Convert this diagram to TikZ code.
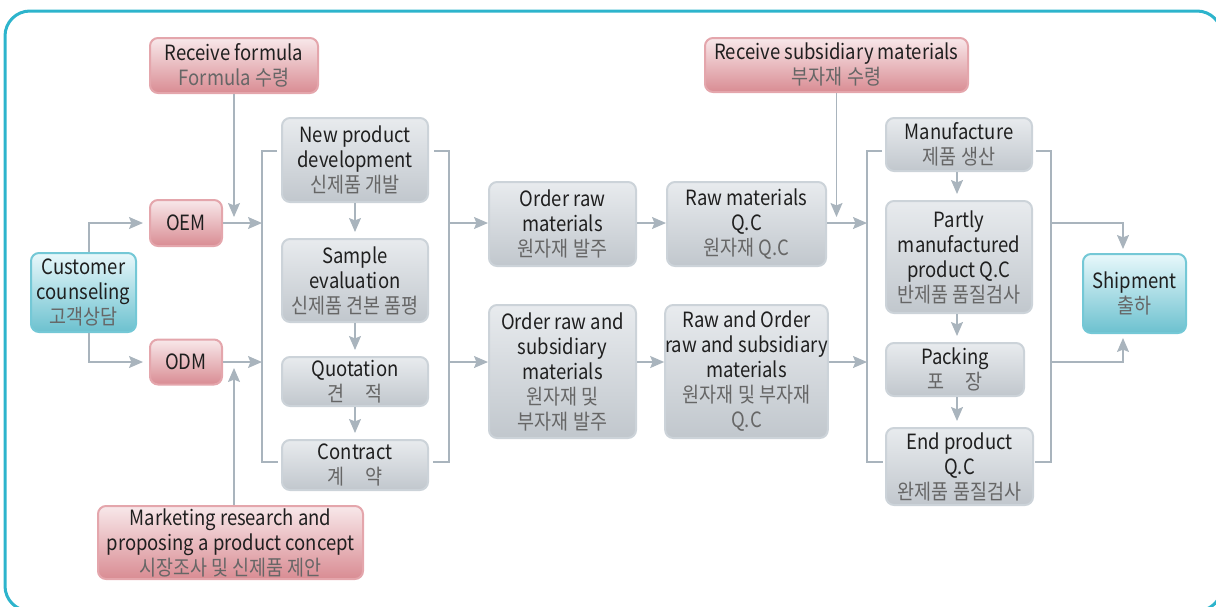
\documentclass[tikz,border=0pt]{standalone}
\usepackage{fontspec}
\setmainfont[FakeStretch=0.88]{Noto Sans CJK KR}
\usetikzlibrary{arrows.meta,shadings}
\definecolor{frameblue}{HTML}{2DB4CC}
\definecolor{linegray}{HTML}{A9B4BD}
\definecolor{pinktop}{HTML}{F8E8EA}
\definecolor{pinkbot}{HTML}{D98C93}
\definecolor{pinkline}{HTML}{E4A6AC}
\definecolor{cyantop}{HTML}{E8F8FB}
\definecolor{cyanbot}{HTML}{6CC1CF}
\definecolor{cyanline}{HTML}{74C8D6}
\definecolor{graytop}{HTML}{E8EBEE}
\definecolor{graybot}{HTML}{C1C7CD}
\definecolor{grayline}{HTML}{CCD3D9}
\definecolor{kotext}{HTML}{666666}
\newcommand{\ko}[1]{{\color{kotext}#1}}
\begin{document}
\begin{tikzpicture}[x=0.5pt, y=-0.5pt,
  box/.style={rounded corners=4pt, line width=1pt, align=center, inner sep=0pt,
    text=black!88, font=\fontsize{10.5pt}{12.5pt}\selectfont},
  pinkbox/.style={box, draw=pinkline, top color=pinktop, bottom color=pinkbot},
  cyanbox/.style={box, draw=cyanline, top color=cyantop, bottom color=cyanbot},
  graybox/.style={box, draw=grayline, top color=graytop, bottom color=graybot},
  conn/.style={draw=linegray, line width=0.7pt},
  arr/.style={conn, -{Stealth[length=7pt,width=6pt,inset=1.2pt]}},
  gap/.style={shorten >=3pt}]
\useasboundingbox (0,0) rectangle (1216,606);
\draw [frameblue, line width=1.5pt, rounded corners=12.5pt] (5,11) rectangle (1222,611);

% inputs
\node[pinkbox, minimum width=84pt, minimum height=27.5pt] (recf) at (234,65.5) {Receive formula\\\ko{Formula 수령}};
\node[pinkbox, minimum width=36pt, minimum height=23pt] (oem) at (186,223) {OEM};
\node[pinkbox, minimum width=36pt, minimum height=22.5pt] (odm) at (186,362) {ODM};
\node[cyanbox, minimum width=52.5pt, minimum height=39.5pt] (cust) at (83.5,292.5) {Customer\\counseling\\\ko{고객상담}};
\node[pinkbox, minimum width=132.5pt, minimum height=36.5pt] (mkt) at (230.5,542.5) {Marketing research and\\proposing a product concept\\\ko{시장조사 및 신제품 제안}};
\node[pinkbox, minimum width=131.5pt, minimum height=27pt] (recs) at (836.5,65) {Receive subsidiary materials\\\ko{부자재 수령}};

% development
\node[graybox, minimum width=73pt, minimum height=42pt] (newp) at (355,160) {New product\\development\\\ko{신제품 개발}};
\node[graybox, minimum width=73pt, minimum height=41.5pt] (sample) at (355,280.5) {Sample\\evaluation\\\ko{신제품 견본 품평}};
\node[graybox, minimum width=73pt, minimum height=24.5pt] (quote) at (355,381.5) {Quotation\\\ko{견\hspace{1em}적}};
\node[graybox, minimum width=73pt, minimum height=25pt] (contr) at (355,465) {Contract\\\ko{계\hspace{1em}약}};

% materials
\node[graybox, minimum width=73.5pt, minimum height=42pt] (ordr) at (562.5,224) {Order raw\\materials\\\ko{원자재 발주}};
\node[graybox, minimum width=79.5pt, minimum height=42pt] (rawqc) at (746.5,224) {Raw materials\\Q.C\\\ko{원자재 Q.C}};
\node[graybox, minimum width=73.5pt, minimum height=66.5pt] (ords) at (562.5,371.5) {Order raw and\\subsidiary\\materials\\\ko{원자재 및}\\\ko{부자재 발주}};
\node[graybox, minimum width=79.5pt, minimum height=66.5pt] (subqc) at (746.5,371.5) {Raw and Order\\raw and subsidiary\\materials\\\ko{원자재 및 부자재}\\\ko{Q.C}};

% production
\node[graybox, minimum width=73pt, minimum height=26.5pt] (manu) at (959,144.5) {Manufacture\\\ko{제품 생산}};
\node[graybox, minimum width=73pt, minimum height=56pt] (partqc) at (959,257) {Partly\\manufactured\\product Q.C\\\ko{반제품 품질검사}};
\node[graybox, minimum width=69pt, minimum height=26.5pt] (pack) at (955,369.5) {Packing\\\ko{포\hspace{1em}장}};
\node[graybox, minimum width=73.5pt, minimum height=38.5pt] (endqc) at (959.5,466.5) {End product\\Q.C\\\ko{완제품 품질검사}};
\node[cyanbox, minimum width=51.5pt, minimum height=39.5pt] (ship) at (1134.5,293.5) {Shipment\\\ko{출하}};

% bracket lines
\coordinate (top) at (0,151);
\coordinate (bot) at (0,462);
\coordinate (b1) at (262,0);
\coordinate (b2) at (449,0);
\coordinate (b3) at (867,0);
\coordinate (b4) at (1051,0);
\coordinate (shipx) at (1123,0);
\draw [conn] (newp.west |- top) ++(-4,0) -| (b1 |- bot) -- ++(16,0);
\draw [conn] (newp.east |- top) ++(5,0) -| (b2 |- bot) -- ++(-16,0);
\draw [conn] (manu.west |- top) ++(-3,0) -| (b3 |- bot) -- ++(16,0);
\draw [conn] (manu.east |- top) ++(3,0) -| (b4 |- bot) -- ++(-16,0);

% arrows
\draw [arr, gap] ([xshift=2.75pt]cust.north) |- (oem);
\draw [arr, gap] ([xshift=2.75pt]cust.south) |- (odm);
\draw [arr, gap] (recf) -- (recf |- oem);
\draw [arr, gap] (mkt.north -| recf) -- (recf |- odm);
\draw [arr] (oem) -- (b1 |- oem);
\draw [arr] (odm) -- (b1 |- odm);
\draw [arr, gap] (newp) -- (sample);
\draw [arr, gap] (sample) -- (quote);
\draw [arr, gap] (quote) -- (contr);
\draw [arr] (b2 |- oem) -- (ordr.west |- oem);
\draw [arr] (ordr.east |- oem) -- (rawqc.west |- oem);
\draw [arr] (rawqc.east |- oem) -- (b3 |- oem);
\draw [arr, gap] (recs) -- (recs |- oem);
\draw [arr] (b2 |- odm) -- (ords.west |- odm);
\draw [arr] (ords.east |- odm) -- (subqc.west |- odm);
\draw [arr] (subqc.east |- odm) -- (b3 |- odm);
\draw [arr, gap] ([xshift=-1pt]manu.south) -- ([xshift=-1pt]manu.south |- partqc.north);
\draw [arr, gap] ([xshift=-1pt]manu.south |- partqc.south) -- ([xshift=-1pt]manu.south |- pack.north);
\draw [arr, gap] ([xshift=-1pt]manu.south |- pack.south) -- ([xshift=-1pt]manu.south |- endqc.north);
\draw [arr, shorten >=2pt] (b4 |- oem) -| (shipx |- ship.north);
\draw [arr, shorten >=2pt] (b4 |- odm) -| (shipx |- ship.south);
\end{tikzpicture}
\end{document}
